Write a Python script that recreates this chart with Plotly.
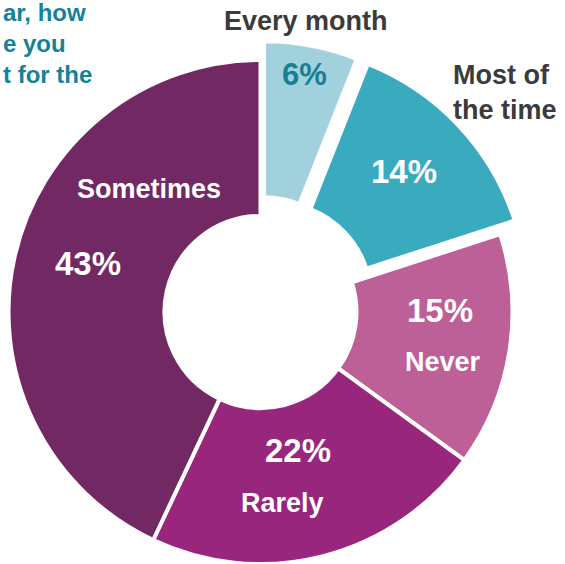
import math
import plotly.graph_objects as go

# Survey responses (percent of respondents), clockwise from 12 o'clock
categories = ["Every month", "Most of the time", "Never", "Rarely", "Sometimes"]
shares = [6, 14, 15, 22, 43]
colors = ["#a0d1dd", "#3aaabf", "#bd6097", "#97267c", "#722963"]
# exploded wedges (distance in px the wedge is pushed out from the centre)
explode_px = [19, 20, 0, 0, 0]

W, H = 565, 564
CX, CY, R = 260.5, 312.0, 252.0
HOLE = 96.0 / R
LINE_W = 4

def domain_for(cx, cy, r):
    return dict(x=[(cx - r) / W, (cx + r) / W],
                y=[1 - (cy + r) / H, 1 - (cy - r) / H])

def mid_angle(i):
    total = sum(shares)
    start = sum(shares[:i]) / total * 360.0
    return start + shares[i] / total * 180.0

fig = go.Figure()

# group the wedges by their offset so every group is drawn as one pie
groups = {}
for i, d in enumerate(explode_px):
    groups.setdefault(d, []).append(i)

for d, idxs in groups.items():
    if d == 0:
        dx, dy = 0.0, 0.0
    else:
        a = math.radians(mid_angle(idxs[0]))
        dx, dy = d * math.sin(a), -d * math.cos(a)
    fills = [colors[i] if i in idxs else "rgba(0,0,0,0)" for i in range(len(shares))]
    widths = [LINE_W if i in idxs else 0 for i in range(len(shares))]
    fig.add_trace(go.Pie(
        labels=categories,
        values=shares,
        sort=False,
        direction="clockwise",
        rotation=0,
        hole=HOLE,
        marker=dict(colors=fills, line=dict(color="white", width=widths)),
        textinfo="none",
        showlegend=False,
        domain=domain_for(CX + dx, CY + dy, R),
    ))

FONT = "Liberation Sans"
DARK = "#3c3a3b"
TEAL = "#13829a"

def px(x, y):
    return x / W, 1 - y / H

annotations = []

def label(text, x, y, size, color, xanchor="center", align="center", yanchor="middle"):
    ax, ay = px(x, y)
    annotations.append(dict(
        text=f"<b>{text}</b>", x=ax, y=ay, xref="paper", yref="paper",
        xanchor=xanchor, yanchor=yanchor, align=align, showarrow=False,
        font=dict(family=FONT, size=size, color=color),
    ))

pct = {c: f"{v}%" for c, v in zip(categories, shares)}

# category names
label("Every month", 305.7, 21, 27, DARK)
label("Most of<br>the time", 451, 92, 27, DARK, xanchor="left", align="left")
label("Never", 443, 362, 27, "white")
label("Rarely", 282, 503, 27, "white")
label("Sometimes", 148.5, 188.5, 27, "white")

# percentages
label(pct["Every month"], 304.5, 74.5, 31, "#1a7f93")
label(pct["Most of the time"], 404, 171, 33, "white")
label(pct["Never"], 440, 310, 33, "white")
label(pct["Rarely"], 298, 450, 33, "white")
label(pct["Sometimes"], 88, 263, 33, "white")

# question text running in from the left edge
annotations.append(dict(
    text="<b>ar, how<br>e you<br>t for the</b>", x=1 / W, y=1 + 3 / H,
    xref="paper", yref="paper", xanchor="left", yanchor="top", align="left",
    showarrow=False, font=dict(family=FONT, size=24, color=TEAL),
))

fig.update_layout(
    width=W, height=H,
    margin=dict(l=0, r=0, t=0, b=0),
    paper_bgcolor="white", plot_bgcolor="white",
    annotations=annotations,
)

fig.write_html("out.html")
